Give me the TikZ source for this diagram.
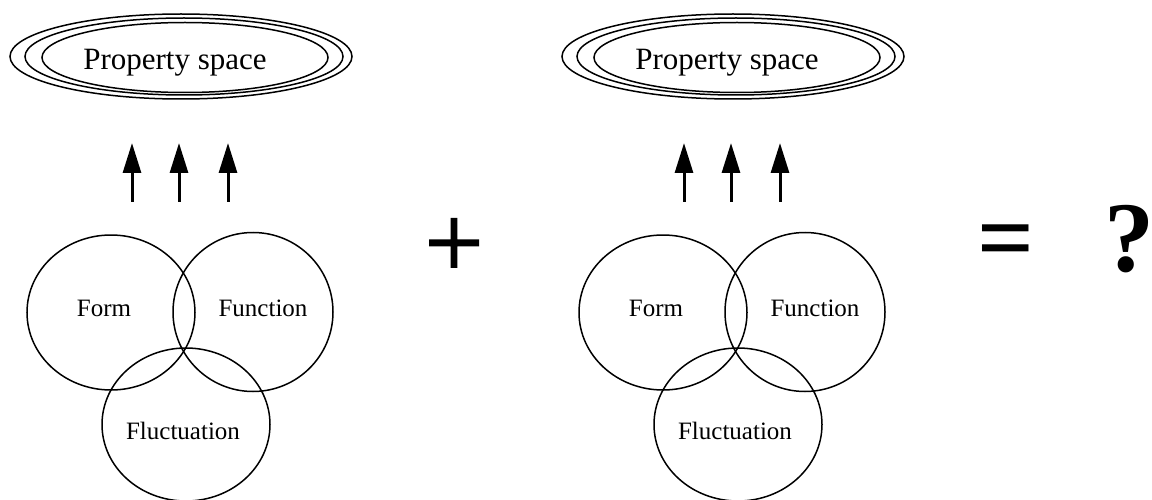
\documentclass[tikz,border=0pt]{standalone}
\usepackage{fontspec}
\setmainfont{Liberation Serif}
\newfontfamily\plusfont[FakeBold=1.6]{Liberation Serif}
\usetikzlibrary{shapes.geometric,arrows.meta}
\tikzset{
  ell/.style={draw, ellipse, line width=1.5pt, inner sep=0pt},
  venn/.style={draw, ellipse, line width=1.5pt, inner sep=0pt},
  lbl/.style={font=\fontsize{25}{30}\selectfont, inner sep=0pt},
  pslbl/.style={font=\fontsize{31}{36}\selectfont, inner sep=0pt, anchor=base},
  uparrow/.style={line width=3pt, -{Triangle[length=30pt,width=18pt]}},
  bigsym/.style={font=\fontsize{100}{110}\selectfont\bfseries, inner sep=0pt}
}
\begin{document}
\begin{tikzpicture}[x=1pt,y=-1pt]
\useasboundingbox (0,0) rectangle (1152,500);
\foreach \i/\dx in {1/0,2/552}{
  % property space triple ellipse
  \node[ell, minimum width=342pt, minimum height=85pt] (pso\i) at (181+\dx,56.5) {};
  \node[ell, minimum width=318pt, minimum height=77pt] (psm\i) at (184+\dx,56.5) {};
  \node[ell, minimum width=286pt, minimum height=70pt] (psi\i) at (185+\dx,57.5) {};
  \node[pslbl] (pst\i) at (175+\dx,70) {Property space};
  % venn circles
  \node[venn, minimum width=168pt, minimum height=155pt] (form\i) at (111+\dx,312.5) {};
  \node[venn, minimum width=160pt, minimum height=159pt] (func\i) at (253+\dx,312) {};
  \node[venn, minimum width=168pt, minimum height=153pt] (fluc\i) at (186+\dx,424.5) {};
  \node[lbl] (formt\i) at (104+\dx,308.5) {Form};
  \node[lbl] (funct\i) at (263+\dx,308.5) {Function};
  \node[lbl] (fluct\i) at (183+\dx,430.5) {Fluctuation};
  % arrows
  \coordinate (a\i s1) at (132+\dx,202);
  \coordinate (a\i e1) at (132+\dx,143);
  \coordinate (a\i s2) at (179+\dx,202);
  \coordinate (a\i e2) at (179+\dx,143);
  \coordinate (a\i s3) at (228+\dx,202);
  \coordinate (a\i e3) at (228+\dx,143);
  \draw[uparrow] (a\i s1) -- (a\i e1);
  \draw[uparrow] (a\i s2) -- (a\i e2);
  \draw[uparrow] (a\i s3) -- (a\i e3);
}
\node[bigsym, font=\fontsize{104}{110}\plusfont] (plus) at (454,248) {+};
\node[bigsym] (eq) at (1006,248.5) {=};
\node[bigsym] (q) at (1129,239) {?};
\end{tikzpicture}
\end{document}
